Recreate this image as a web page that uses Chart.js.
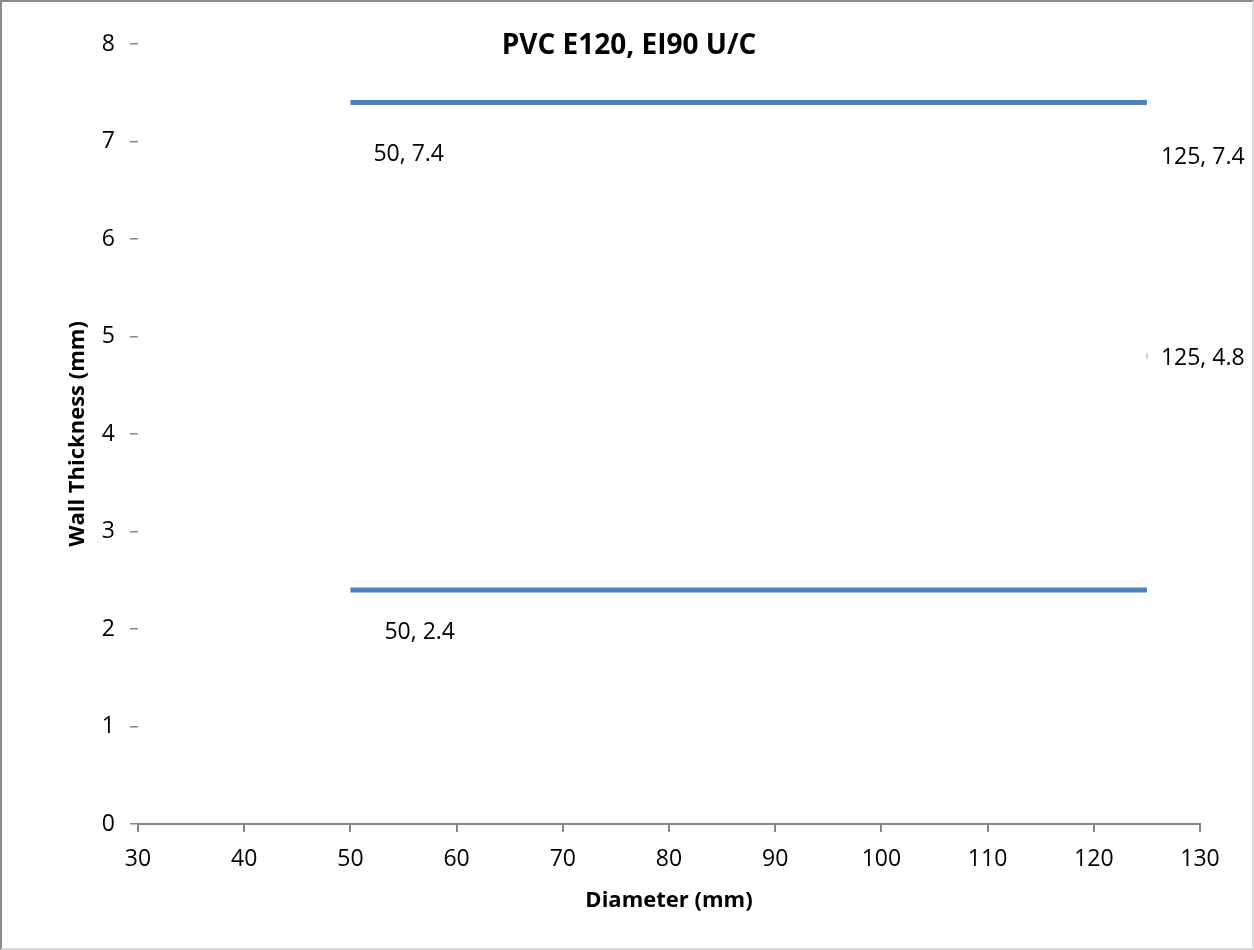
<!DOCTYPE html>
<html>
<head>
<meta charset="utf-8">
<script src="https://cdn.jsdelivr.net/npm/chart.js@4"></script>
<style>
  html, body { margin: 0; padding: 0; background: #fff; }
  #wrap { position: relative; width: 1254px; height: 950px; box-sizing: border-box; border: 2px solid #8c8c8c; border-right-color: #d9d9d9; border-bottom-color: #d9d9d9; }
  canvas { display: block; }
</style>
</head>
<body>
<div id="wrap"><canvas id="myChart" width="1250" height="946"></canvas></div>
<script>
const chartTitle = 'PVC E120, EI90 U/C'
const xTitle = 'Diameter (mm)'
const yTitle = 'Wall Thickness (mm)'

// series
const diameters = [50, 125]
const upperWall = [7.4, 7.4]
const lowerWall = [2.4, 2.4]
const midDiameter = [125]
const midWall = [4.8]

const xTicks = [30, 40, 50, 60, 70, 80, 90, 100, 110, 120, 130]
const yTicks = [0, 1, 2, 3, 4, 5, 6, 7, 8]

const blue = '#4f81bd'
const font = "'Open Sans', 'Noto Sans', sans-serif"

const toPoints = (xs, ys) => xs.map((x, i) => ({ x: x, y: ys[i] }))

// which points carry a data label, and where the label sits relative to the point
const pointLabels = [
  { ds: 0, i: 0, dx: 23, dy: 52 },
  { ds: 0, i: 1, dx: 14, dy: 55 },
  { ds: 2, i: 0, dx: 14, dy: 2 },
  { ds: 1, i: 0, dx: 34, dy: 42 }
]

const labelPlugin = {
  id: 'labelPlugin',
  afterDatasetsDraw(chart) {
    const ctx = chart.ctx
    ctx.save()
    ctx.fillStyle = '#000'
    ctx.font = `23px ${font}`
    ctx.textAlign = 'left'
    ctx.textBaseline = 'middle'
    pointLabels.forEach((p) => {
      const pt = chart.data.datasets[p.ds].data[p.i]
      const el = chart.getDatasetMeta(p.ds).data[p.i]
      ctx.fillText(`${pt.x}, ${pt.y}`, el.x + p.dx, el.y + p.dy)
    })
    // title sits over the plot area
    ctx.font = `bold 28px ${font}`
    ctx.textAlign = 'center'
    ctx.fillText(chartTitle, chart.width / 2 + 2, 44)
    ctx.restore()
  }
}

const ctx = document.getElementById('myChart')

new Chart(ctx, {
  type: 'scatter',
  data: {
    datasets: [
      {
        data: toPoints(diameters, upperWall),
        showLine: true,
        borderColor: blue,
        borderWidth: 5,
        pointRadius: 0,
        borderCapStyle: 'butt'
      },
      {
        data: toPoints(diameters, lowerWall),
        showLine: true,
        borderColor: blue,
        borderWidth: 5,
        pointRadius: 0,
        borderCapStyle: 'butt'
      },
      {
        data: toPoints(midDiameter, midWall),
        showLine: false,
        pointStyle: 'line',
        rotation: 90,
        pointRadius: 3,
        borderColor: '#c9d6e8',
        borderWidth: 2
      }
    ]
  },
  options: {
    responsive: false,
    animation: false,
    layout: { padding: { top: 42, left: 63, right: 52, bottom: 34 } },
    plugins: {
      legend: { display: false },
      tooltip: { enabled: false },
      title: { display: false }
    },
    scales: {
      x: {
        type: 'linear',
        min: 30,
        max: 130,
        afterBuildTicks: (axis) => { axis.ticks = xTicks.map((v) => ({ value: v })) },
        afterFit: (axis) => { axis.height = 90 },
        grid: { drawOnChartArea: false, color: '#868686', tickLength: 8, lineWidth: 2 },
        border: { display: true, color: '#868686', width: 2 },
        ticks: { color: '#000', padding: 14, font: { family: font, size: 23 } },
        title: { display: true, text: xTitle, color: '#000', padding: 0, font: { family: font, size: 22, weight: 'bold' } }
      },
      y: {
        type: 'linear',
        min: 0,
        max: 8,
        afterBuildTicks: (axis) => { axis.ticks = yTicks.map((v) => ({ value: v })) },
        afterFit: (axis) => { axis.width = 73 },
        grid: { drawOnChartArea: false, color: '#868686', tickLength: 8, lineWidth: 1.5 },
        border: { display: false },
        ticks: { color: '#000', padding: 15, font: { family: font, size: 23 } },
        title: { display: true, text: yTitle, color: '#000', padding: 0, font: { family: font, size: 22, weight: 'bold' } }
      }
    }
  },
  plugins: [labelPlugin]
})
</script>
</body>
</html>
